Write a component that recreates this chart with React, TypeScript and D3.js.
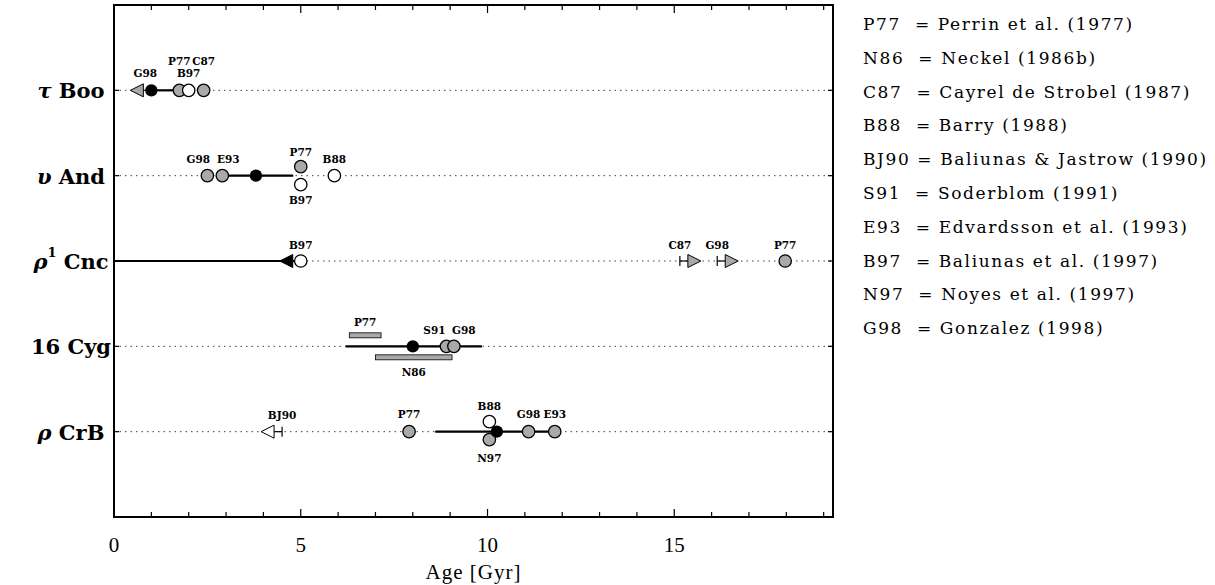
import React from "react";
import * as d3 from "d3";

// stars, top to bottom
const starGreek = ["τ", "υ", "ρ", "", "ρ"];
const starSup = ["", "", "1", "", ""];
const starName = ["Boo", "And", "Cnc", "16 Cyg", "CrB"];

// this work: adopted age (null = limit only), range of the line
const ourAge = [1.0, 3.8, null, 8.0, 10.25];
const ourLow = [1.0, 2.9, 0, 6.2, 8.6];
const ourHigh = [1.75, 4.8, 5.0, 9.85, 11.8];
const ourUpper = [null, null, 5.0, null, null];

// literature ages: [star, ref, age, fill, limit]
const litPoints = [
  [0, "G98", 1.0, "gray", "upper"],
  [0, "P77", 1.75, "gray", ""],
  [0, "B97", 2.0, "open", ""],
  [0, "C87", 2.4, "gray", ""],
  [1, "G98", 2.5, "gray", ""],
  [1, "E93", 2.9, "gray", ""],
  [1, "P77", 5.0, "gray", ""],
  [1, "B97", 5.0, "open", ""],
  [1, "B88", 5.9, "open", ""],
  [2, "B97", 5.0, "open", ""],
  [2, "C87", 15.15, "gray", "lower"],
  [2, "G98", 16.15, "gray", "lower"],
  [2, "P77", 17.97, "gray", ""],
  [3, "S91", 8.9, "gray", ""],
  [3, "G98", 9.1, "gray", ""],
  [4, "BJ90", 4.5, "open", "upper"],
  [4, "P77", 7.9, "gray", ""],
  [4, "B88", 10.05, "open", ""],
  [4, "N97", 10.05, "gray", ""],
  [4, "G98", 11.1, "gray", ""],
  [4, "E93", 11.8, "gray", ""],
];

// literature age ranges: [star, ref, low, high]
const litRanges = [
  [3, "P77", 6.3, 7.15],
  [3, "N86", 7.0, 9.05],
];

const refCodes = ["P77", "N86", "C87", "B88", "BJ90", "S91", "E93", "B97", "N97", "G98"];
const refNames = [
  "Perrin et al. (1977)",
  "Neckel (1986b)",
  "Cayrel de Strobel (1987)",
  "Barry (1988)",
  "Baliunas & Jastrow (1990)",
  "Soderblom (1991)",
  "Edvardsson et al. (1993)",
  "Baliunas et al. (1997)",
  "Noyes et al. (1997)",
  "Gonzalez (1998)",
];

const xTicks = [0, 5, 10, 15];

// layout nudges (pixels): marker vertical shift, label [dx, dy]
const markerShift: Record<string, number> = {
  "1-P77": -9, "1-B97": 9, "4-B88": -10, "4-N97": 8,
  "3-P77r": -11, "3-N86r": 11,
};
const labelNudge: Record<string, [number, number]> = {
  "0-G98": [-6, -17], "0-P77": [0, -29], "0-B97": [0, -17], "0-C87": [0, -29],
  "1-G98": [-9, -17], "1-E93": [6, -17], "1-P77": [0, -24], "1-B97": [0, 24], "1-B88": [0, -17],
  "2-B97": [0, -16], "2-C87": [0, -16], "2-G98": [0, -16], "2-P77": [0, -16],
  "3-S91": [-12, -16], "3-G98": [10, -16], "3-P77r": [0, -24], "3-N86r": [0, 26],
  "4-BJ90": [0, -17], "4-P77": [0, -18], "4-B88": [0, -26], "4-N97": [0, 26],
  "4-G98": [0, -18], "4-E93": [0, -18],
};

const W = 1215;
const H = 585;
const GRAY = "#a9a9a9";
const serif = "'DejaVu Serif', serif";
const roman = "'Liberation Serif', serif";

export default function App() {
  const x = d3.scaleLinear().domain([0, 19.25]).range([114, 833]);
  const y = d3.scaleLinear().domain([0, 6]).range([5, 517]);
  const rowY = (i: number) => y(i + 1);
  const [x0, x1] = x.range();
  const [yTop, yBot] = y.range();
  const r = 6.2;

  const limitMarker = (cx: number, cy: number, dir: number, fill: string, key: string) => {
    const base = cx + dir * 8;
    const tip = base + dir * 13;
    return (
      <g key={key}>
        <line x1={cx} x2={cx} y1={cy - 5} y2={cy + 5} stroke="black" strokeWidth={1.2} />
        <line x1={cx} x2={base} y1={cy} y2={cy} stroke="black" strokeWidth={1.2} />
        <path
          d={`M${base},${cy - 6.5}L${tip},${cy}L${base},${cy + 6.5}Z`}
          fill={fill}
          stroke="black"
          strokeWidth={1}
        />
      </g>
    );
  };

  const minor = d3.range(0, 20, 1);

  return (
    <svg width={W} height={H} style={{ position: "absolute", left: 0, top: 0 }}>
      <rect width={W} height={H} fill="white" />

      {/* dotted row guides */}
      {starName.map((_, i) => (
        <line
          key={"g" + i}
          x1={x0}
          x2={x1}
          y1={rowY(i)}
          y2={rowY(i)}
          stroke="#444"
          strokeWidth={1}
          strokeDasharray="1.5,4"
        />
      ))}

      {/* this work: range lines and limit markers */}
      {starName.map((_, i) => (
        <line
          key={"o" + i}
          x1={x(ourLow[i])}
          x2={x(ourHigh[i])}
          y1={rowY(i)}
          y2={rowY(i)}
          stroke="black"
          strokeWidth={2.2}
        />
      ))}
      {ourUpper.map((v, i) =>
        v === null ? null : limitMarker(x(v), rowY(i), -1, "black", "ou" + i)
      )}

      {/* literature ranges */}
      {litRanges.map(([s, ref, lo, hi]) => {
        const k = `${s}-${ref}r`;
        const cy = rowY(s as number) + (markerShift[k] || 0);
        const [dx, dy] = labelNudge[k];
        return (
          <g key={k}>
            <rect
              x={x(lo as number)}
              y={cy - 2.5}
              width={x(hi as number) - x(lo as number)}
              height={5}
              fill={GRAY}
              stroke="black"
              strokeWidth={0.8}
            />
            <text
              x={(x(lo as number) + x(hi as number)) / 2 + dx}
              y={rowY(s as number) + dy}
              textAnchor="middle"
              dominantBaseline="central"
              fontFamily={serif}
              fontWeight="bold"
              fontSize={10.5}
            >
              {ref}
            </text>
          </g>
        );
      })}

      {/* literature points */}
      {litPoints.map(([s, ref, age, fill, limit]) => {
        const k = `${s}-${ref}`;
        const cx = x(age as number);
        const cy = rowY(s as number) + (markerShift[k] || 0);
        const f = fill === "gray" ? GRAY : "white";
        return limit
          ? limitMarker(cx, cy, limit === "upper" ? -1 : 1, f, k)
          : <circle key={k} cx={cx} cy={cy} r={r} fill={f} stroke="black" strokeWidth={1.3} />;
      })}
      {litPoints.map(([s, ref, age]) => {
        const k = `${s}-${ref}`;
        const [dx, dy] = labelNudge[k];
        return (
          <text
            key={"l" + k}
            x={x(age as number) + dx}
            y={rowY(s as number) + dy}
            textAnchor="middle"
            dominantBaseline="central"
            fontFamily={serif}
            fontWeight="bold"
            fontSize={10.5}
          >
            {ref}
          </text>
        );
      })}

      {/* this work: adopted ages */}
      {ourAge.map((v, i) =>
        v === null ? null : <circle key={"d" + i} cx={x(v)} cy={rowY(i)} r={r} fill="black" />
      )}

      {/* frame and ticks */}
      <rect x={x0} y={yTop} width={x1 - x0} height={yBot - yTop} fill="none" stroke="black" strokeWidth={2} />
      {minor.map((t) => {
        const len = t % 5 === 0 ? 8 : 5;
        return (
          <g key={"t" + t}>
            <line x1={x(t)} x2={x(t)} y1={yBot} y2={yBot - len} stroke="black" strokeWidth={1.2} />
            <line x1={x(t)} x2={x(t)} y1={yTop} y2={yTop + len} stroke="black" strokeWidth={1.2} />
          </g>
        );
      })}
      {starName.map((_, i) => (
        <g key={"yt" + i}>
          <line x1={x0} x2={x0 + 5} y1={rowY(i)} y2={rowY(i)} stroke="black" strokeWidth={1.2} />
          <line x1={x1} x2={x1 - 5} y1={rowY(i)} y2={rowY(i)} stroke="black" strokeWidth={1.2} />
        </g>
      ))}
      {xTicks.map((t) => (
        <text
          key={"xl" + t}
          x={x(t)}
          y={545}
          textAnchor="middle"
          dominantBaseline="central"
          fontFamily={roman}
          fontSize={21}
        >
          {t}
        </text>
      ))}
      <text
        x={(x0 + x1) / 2}
        y={572}
        textAnchor="middle"
        dominantBaseline="central"
        fontFamily={roman}
        fontSize={21}
        letterSpacing={1}
      >
        Age [Gyr]
      </text>

      {/* star names */}
      {starName.map((n, i) => (
        <text
          key={"s" + i}
          x={71}
          y={rowY(i)}
          textAnchor="middle"
          dominantBaseline="central"
          fontFamily={serif}
          fontWeight="bold"
          fontSize={21}
        >
          {starGreek[i] && <tspan fontStyle="italic">{starGreek[i]}</tspan>}
          {starSup[i] && (
            <tspan fontSize={13} dy={-9}>
              {starSup[i]}
            </tspan>
          )}
          <tspan dy={starSup[i] ? 9 : 0}>{(starGreek[i] ? "\u00a0" : "") + n}</tspan>
        </text>
      ))}

      {/* reference key */}
      {refCodes.map((c, i) => (
        <text
          key={"k" + c}
          x={863}
          y={24 + i * 33.8}
          dominantBaseline="central"
          fontFamily={serif}
          fontSize={17}
          letterSpacing={1.6}
          style={{ whiteSpace: "pre" }}
        >
          {c.padEnd(4, "\u00a0") + "\u00a0=\u00a0" + refNames[i]}
        </text>
      ))}
    </svg>
  );
}
